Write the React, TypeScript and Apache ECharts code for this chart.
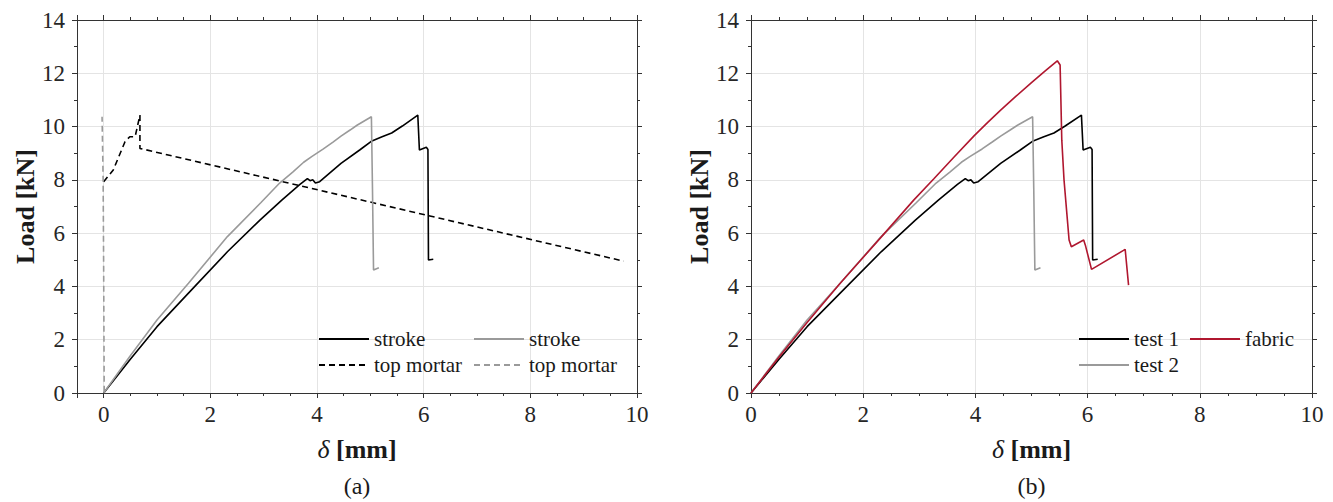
import React, { useEffect, useRef } from "react";
import * as echarts from "echarts";

// Load–displacement curves, δ [mm] vs Load [kN]
const test1Stroke: [number, number][] = [
  [0, 0], [0.5, 1.27], [1.0, 2.49], [1.59, 3.75], [2.32, 5.3], [2.93, 6.49],
  [3.34, 7.24], [3.68, 7.83], [3.82, 8.05], [3.87, 7.97], [3.92, 8.0],
  [3.97, 7.88], [4.05, 7.93], [4.45, 8.62], [4.8, 9.12], [5.03, 9.46],
  [5.22, 9.62], [5.4, 9.76], [5.6, 10.02], [5.89, 10.43], [5.92, 9.12],
  [6.05, 9.22], [6.08, 9.14], [6.09, 4.99], [6.18, 5.02],
];

const test2Stroke: [number, number][] = [
  [0, 0], [0.5, 1.4], [1.0, 2.74], [1.59, 4.12], [2.32, 5.87], [2.95, 7.15],
  [3.3, 7.88], [3.55, 8.3], [3.75, 8.66], [3.9, 8.87], [4.12, 9.16],
  [4.3, 9.42], [4.45, 9.64], [4.62, 9.87], [4.75, 10.05], [5.02, 10.37],
  [5.04, 7.7], [5.06, 4.62], [5.16, 4.7],
];

const test1TopMortar: [number, number][] = [
  [0, 7.93], [0.18, 8.37], [0.4, 9.43], [0.49, 9.62], [0.59, 9.62],
  [0.68, 10.43], [0.68, 9.18], [9.75, 4.95],
];

const test2TopMortar: [number, number][] = [
  [0.01, 0.05], [0.0, 4.6], [-0.01, 8.0], [-0.03, 10.37],
];

const fabric: [number, number][] = [
  [0, 0], [0.5, 1.35], [1.0, 2.65], [1.59, 4.12], [2.32, 5.85], [2.9, 7.24],
  [3.26, 8.04], [3.62, 8.86], [3.98, 9.66], [4.22, 10.16], [4.45, 10.62],
  [4.72, 11.13], [5.0, 11.65], [5.25, 12.1], [5.46, 12.47], [5.51, 12.31],
  [5.54, 9.49], [5.58, 7.99], [5.67, 5.74], [5.71, 5.49], [5.93, 5.74],
  [5.96, 5.55], [6.07, 4.64], [6.67, 5.39], [6.73, 4.05],
];

const panelLabels = ["(a)", "(b)"];
const xName = "{i|δ} {b|[mm]}";
const yName = "Load [kN]";

const FONT = "Liberation Serif";
const AXIS_COLOR = "#333333";
const LABEL_COLOR = "#262626";
const GRID_COLOR = "#e4e4e4";
const BLACK = "#000000";
const GRAY = "#9a9a9a";
const RED = "#b0172f";

const tickLabel = {
  fontFamily: FONT,
  fontSize: 23,
  color: LABEL_COLOR,
};

function xAxisDef(gridIndex: number, min: number, top: boolean) {
  const base: any = {
    type: "value",
    gridIndex,
    position: top ? "top" : "bottom",
    min,
    max: 10,
    axisLine: { show: true, onZero: false, lineStyle: { color: AXIS_COLOR, width: 1 } },
    axisTick: { show: true, inside: false, length: 5, lineStyle: { color: AXIS_COLOR } },
    minorTick: { show: true, splitNumber: 4, length: 3, lineStyle: { color: AXIS_COLOR } },
    splitLine: { show: !top, lineStyle: { color: GRID_COLOR, width: 1 } },
    axisLabel: {
      show: !top,
      showMinLabel: min === 0,
      margin: 10,
      ...tickLabel,
      formatter: (v: number) => `{t|${v}}`,
      rich: { t: tickLabel },
    },
  };
  if (min === 0) base.interval = 2;
  else base.splitNumber = 5;
  if (!top) {
    base.name = xName;
    base.nameLocation = "middle";
    base.nameGap = 43;
    base.nameTextStyle = {
      fontFamily: FONT,
      fontSize: 26,
      color: "#1a1a1a",
      rich: {
        i: { fontFamily: FONT, fontSize: 26, fontStyle: "italic", color: "#1a1a1a" },
        b: { fontFamily: FONT, fontSize: 26, fontWeight: "bold", color: "#1a1a1a" },
      },
    };
  }
  return base;
}

function yAxisDef(gridIndex: number, right: boolean) {
  const base: any = {
    type: "value",
    gridIndex,
    position: right ? "right" : "left",
    min: 0,
    max: 14,
    interval: 2,
    axisLine: { show: true, onZero: false, lineStyle: { color: AXIS_COLOR, width: 1 } },
    axisTick: { show: true, inside: false, length: 5, lineStyle: { color: AXIS_COLOR } },
    minorTick: { show: true, splitNumber: 2, length: 3, lineStyle: { color: AXIS_COLOR } },
    splitLine: { show: !right, lineStyle: { color: GRID_COLOR, width: 1 } },
    axisLabel: {
      show: !right,
      margin: 12,
      ...tickLabel,
      formatter: (v: number) => `{t|${v}}`,
      rich: { t: tickLabel },
    },
  };
  if (!right) {
    base.name = yName;
    base.nameLocation = "middle";
    base.nameGap = 38;
    base.nameTextStyle = {
      fontFamily: FONT,
      fontSize: 26,
      fontWeight: "bold",
      color: "#1a1a1a",
    };
  }
  return base;
}

function lineSeries(
  name: string,
  data: [number, number][],
  axis: number,
  color: string,
  dashed: boolean
) {
  return {
    name,
    type: "line",
    xAxisIndex: axis,
    yAxisIndex: axis,
    data,
    symbol: "none",
    showSymbol: false,
    smooth: false,
    lineStyle: { color, width: 1.6, type: dashed ? [6, 4] : "solid" },
    itemStyle: { color },
    emphasis: { disabled: true },
  };
}

function legendDef(data: string[], left: number) {
  return {
    data,
    left,
    top: 328.5,
    orient: "vertical",
    itemGap: 5,
    itemWidth: 50,
    itemHeight: 14,
    padding: 0,
    selectedMode: false,
    formatter: (n: string) => n.trim(),
    itemStyle: { opacity: 0, borderWidth: 0 },
    textStyle: { fontFamily: FONT, fontSize: 21, lineHeight: 21, color: "#1a1a1a" },
  };
}

export default function App() {
  const ref = useRef<HTMLDivElement>(null);

  useEffect(() => {
    if (!ref.current) return;
    const chart = echarts.init(ref.current, undefined, { renderer: "svg" });
    chart.setOption({
      animation: false,
      backgroundColor: "#ffffff",
      textStyle: { fontFamily: FONT },
      grid: [
        { left: 77, top: 20, width: 560, height: 373 },
        { left: 751, top: 20, width: 561, height: 373 },
      ],
      xAxis: [
        xAxisDef(0, -0.5, false),
        xAxisDef(0, -0.5, true),
        xAxisDef(1, 0, false),
        xAxisDef(1, 0, true),
      ],
      yAxis: [yAxisDef(0, false), yAxisDef(0, true), yAxisDef(1, false), yAxisDef(1, true)],
      legend: [
        legendDef(["stroke", "top mortar"], 318),
        legendDef(["stroke ", "top mortar "], 473),
        legendDef(["test 1", "test 2"], 1078),
        legendDef(["fabric"], 1189),
      ],
      series: [
        lineSeries("stroke", test1Stroke, 0, BLACK, false),
        lineSeries("top mortar", test1TopMortar, 0, BLACK, true),
        lineSeries("stroke ", test2Stroke, 0, GRAY, false),
        lineSeries("top mortar ", test2TopMortar, 0, GRAY, true),
        lineSeries("test 1", test1Stroke, 2, BLACK, false),
        lineSeries("test 2", test2Stroke, 2, GRAY, false),
        lineSeries("fabric", fabric, 2, RED, false),
      ],
      graphic: panelLabels.map((t, i) => ({
        type: "text",
        x: i === 0 ? 357 : 1031.5,
        y: 486,
        style: {
          text: t,
          font: `24px ${FONT}`,
          fill: "#1a1a1a",
          textAlign: "center",
          textVerticalAlign: "middle",
          align: "center",
          verticalAlign: "middle",
        },
      })),
    });
    return () => chart.dispose();
  }, []);

  return (
    <div
      ref={ref}
      style={{ position: "fixed", left: 0, top: 0, width: 1333, height: 502 }}
    />
  );
}
